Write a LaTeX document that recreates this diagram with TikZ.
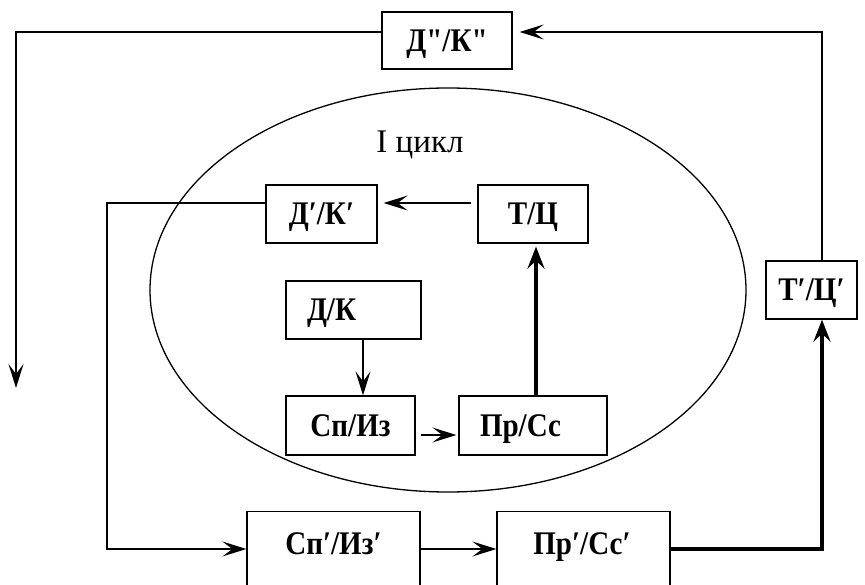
\documentclass[tikz,border=0pt]{standalone}
\usepackage{fontspec}
\setmainfont{Liberation Serif}
\newfontfamily\boxfont[FakeStretch=0.88]{Liberation Serif}
\newfontfamily\titlefont{Liberation Serif}
\usetikzlibrary{arrows.meta,shapes.geometric}
\begin{document}
\begin{tikzpicture}[x=1pt,y=-1pt,
  bfont/.style={font=\fontsize{33}{38}\boxfont\bfseries, text height=25pt, text depth=3pt},
  box/.style={draw, line width=1.3pt, inner sep=0pt, bfont},
  lbl/.style={inner sep=0pt, bfont},
  ln/.style={line width=1.3pt},
  arr/.style={line width=1.3pt, -{Stealth[length=24pt,width=15pt,inset=10pt]}},
  tarr/.style={line width=4.8pt, -{Stealth[length=22pt,width=17pt,inset=8pt]}}]
\useasboundingbox (0,0) rectangle (865,585);
\clip (0,0) rectangle (865,585);

% cycle ellipse
\node[draw, ellipse, line width=1.3pt, minimum width=596pt, minimum height=404pt, inner sep=0pt] (cyc) at (448,290) {};
\node[inner sep=0pt, anchor=base, font=\fontsize{33}{38}\titlefont] (title) at (420,153) {I цикл};

% outer boxes
\node[box, minimum width=130pt, minimum height=57pt] (DKpp) at (447,40.5) {Д"/К"};
\node[box, minimum width=91pt, minimum height=58pt] (TCp) at (811.5,290) {Т′/Ц′};
\node[box, anchor=north, minimum width=173pt, minimum height=100pt] (SIp) at (333.5,511) {};
\node[lbl] (SIpt) at (333.5,543) {Сп′/Из′};
\node[box, anchor=north, minimum width=173pt, minimum height=100pt] (PSp) at (583.5,511) {};
\node[lbl] (PSpt) at (582,543) {Пр′/Сс′};

% inner boxes
\node[box, minimum width=111pt, minimum height=58pt] (DKp) at (321.5,214) {Д′/К′};
\node[box, minimum width=110pt, minimum height=58pt] (TC) at (533,214) {Т/Ц};
\node[box, minimum width=135pt, minimum height=58pt, inner xsep=21pt, text width=93pt, align=left] (DK) at (353.5,310) {Д/К};
\node[box, minimum width=129pt, minimum height=59pt] (SI) at (350.5,425.5) {Сп/Из};
\node[box, minimum width=148pt, minimum height=59pt, inner xsep=21pt, text width=106pt, align=left] (PS) at (533,425.5) {Пр/Сс};

% helper coordinates
\coordinate (tl) at (16,32);
\coordinate (tr) at (822,32);
\coordinate (ldown) at (16,388);
\coordinate (bt) at (822,549);
\coordinate (lc1) at (107,203);
\coordinate (lc2) at (107,549);
\coordinate (ya) at (400,203);
\coordinate (xd) at (363,300);
\coordinate (yb) at (440,435);
\coordinate (xt) at (536,300);

% outer loop
\draw[arr] (DKpp.west |- tl) -- (tl) -- (ldown);
\draw[arr, shorten >=7pt] (tr |- TCp.north) -- (tr) -- (tr -| DKpp.east);
\draw[tarr] (PSp.east |- bt) -- (bt) -- (bt |- TCp.south);
\draw[arr] (DKp.west |- lc1) -- (lc1) -- (lc2) -- (lc2 -| SIp.west);
\draw[arr] (SIp.east |- lc2) -- (PSp.west |- lc2);

% inner cycle
\draw[arr, shorten <=6pt, shorten >=6pt] (TC.west |- ya) -- (DKp.east |- ya);
\draw[arr] (xd |- DK.south) -- (xd |- SI.north);
\draw[arr, shorten <=5pt, shorten >=2pt] (SI.east |- yb) -- (PS.west |- yb);
\draw[tarr, shorten >=3pt] (xt |- PS.north) -- (xt |- TC.south);
\end{tikzpicture}
\end{document}
